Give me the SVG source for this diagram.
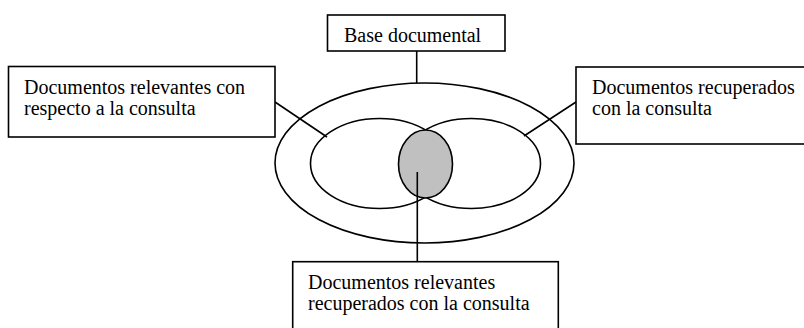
<svg xmlns="http://www.w3.org/2000/svg" width="804" height="328" viewBox="0 0 804 328">
<style>
.box{fill:#fff;stroke:#000;stroke-width:1.6}
.ln{fill:none;stroke:#000;stroke-width:1.6}
.el{fill:none;stroke:#000;stroke-width:1.6}
text{font-family:"Liberation Serif","Times New Roman",serif;font-size:20px;fill:#000}
</style>
<rect width="804" height="328" fill="#fff"/>
<g id="venn">
<ellipse class="el" cx="424.5" cy="163" rx="149.5" ry="80"/>
<ellipse class="el" cx="379.5" cy="163.5" rx="69" ry="45"/>
<ellipse class="el" cx="471.5" cy="163.5" rx="69" ry="45"/>
<ellipse cx="425.5" cy="164" rx="27" ry="34" fill="#c0c0c0" stroke="#000" stroke-width="1.6"/>
</g>
<g id="connectors">
<line class="ln" x1="416.7" y1="51" x2="416.7" y2="83"/>
<line class="ln" x1="275" y1="102" x2="327" y2="137"/>
<line class="ln" x1="576" y1="102" x2="524" y2="136"/>
<line class="ln" x1="417.3" y1="172" x2="417.3" y2="262"/>
</g>
<g id="base">
<rect class="box" x="327.5" y="15" width="177.5" height="36"/>
<text x="344" y="41.5">Base documental</text>
</g>
<g id="relevantes">
<rect class="box" x="8.5" y="66.5" width="266.5" height="70.5"/>
<text x="24" y="93.5">Documentos relevantes con</text>
<text x="24" y="115">respecto a la consulta</text>
</g>
<g id="recuperados">
<rect class="box" x="576" y="67" width="232" height="77"/>
<text x="592" y="93.5">Documentos recuperados</text>
<text x="592" y="115">con la consulta</text>
</g>
<g id="interseccion">
<rect class="box" x="292.7" y="261.7" width="265.6" height="80"/>
<text x="308" y="288.5">Documentos relevantes</text>
<text x="308" y="310">recuperados con la consulta</text>
</g>
</svg>
